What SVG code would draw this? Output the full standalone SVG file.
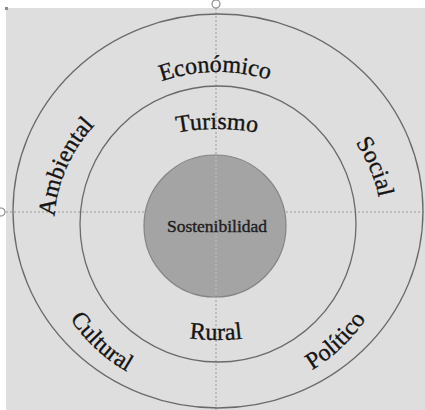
<svg xmlns="http://www.w3.org/2000/svg" xmlns:xlink="http://www.w3.org/1999/xlink" width="425" height="410" viewBox="0 0 425 410">
  <style>
    .ring { fill: none; stroke: #6a6a6a; stroke-width: 1.3; }
    .guide { fill: none; stroke: #9a9a9a; stroke-width: 1; stroke-dasharray: 2 2; }
    .lbl { font-family: "Liberation Serif", "Times New Roman", serif; font-size: 24px; fill: #141414; stroke: #141414; stroke-width: 0.35; }
    .core-lbl { font-family: "Liberation Serif", "Times New Roman", serif; font-size: 17.5px; fill: #1e1e1e; stroke: #1e1e1e; stroke-width: 0.4; }
    .handle { fill: none; stroke: #8a8a8a; stroke-width: 1.2; }
  </style>
  <defs>
    <path id="pEco" d="M110.4,110.2 A164,156 0 0 1 321.2,106.8"/>
    <path id="pSoc" d="M319,105.1 A164,156 0 0 1 380.4,249.7"/>
    <path id="pAmb" d="M57.9,261.8 A164,156 0 0 1 129.9,96.4"/>
    <path id="pCul" d="M48.4,272.9 A176,168 0 0 0 174,390.6"/>
    <path id="pPol" d="M263.6,390.3 A176,168 0 0 0 388,271.5"/>
    <path id="pTur" d="M124,149.6 A220,220 0 0 1 310,149.6"/>
    <path id="pRur" d="M123,319.4 A220,220 0 0 0 309,319.4"/>
  </defs>

  <rect x="0" y="0" width="425" height="410" fill="#ffffff"/>
  <rect x="6" y="8" width="419" height="402" fill="#dedede"/>
  <rect x="5" y="7" width="3" height="3" fill="#8a8a8a"/>

  <g id="guides">
    <line class="guide" x1="216" y1="8" x2="216" y2="410"/>
    <line class="guide" x1="6" y1="212" x2="425" y2="212"/>
    <circle class="handle" cx="216" cy="4" r="4"/>
    <circle class="handle" cx="1" cy="212" r="4"/>
  </g>

  <g id="outer-ring">
    <ellipse class="ring" cx="218" cy="211" rx="205" ry="197"/>
    <text class="lbl"><textPath xlink:href="#pEco" href="#pEco" startOffset="50%" text-anchor="middle">Económico</textPath></text>
    <text class="lbl"><textPath xlink:href="#pSoc" href="#pSoc" startOffset="50%" text-anchor="middle">Social</textPath></text>
    <text class="lbl"><textPath xlink:href="#pAmb" href="#pAmb" startOffset="50%" text-anchor="middle">Ambiental</textPath></text>
    <text class="lbl"><textPath xlink:href="#pCul" href="#pCul" startOffset="50%" text-anchor="middle">Cultural</textPath></text>
    <text class="lbl"><textPath xlink:href="#pPol" href="#pPol" startOffset="50%" text-anchor="middle">Político</textPath></text>
  </g>

  <g id="inner-ring">
    <circle class="ring" cx="218" cy="224" r="138"/>
    <text class="lbl"><textPath xlink:href="#pTur" href="#pTur" startOffset="50%" text-anchor="middle">Turismo</textPath></text>
    <text class="lbl"><textPath xlink:href="#pRur" href="#pRur" startOffset="50%" text-anchor="middle">Rural</textPath></text>
  </g>

  <g id="core">
    <circle cx="215" cy="226" r="71" fill="#a4a4a4" stroke="#848484" stroke-width="1.2"/>
    <line x1="216" y1="156" x2="216" y2="296" stroke="#bdbdbd" stroke-width="1" stroke-dasharray="2 2"/>
    <text class="core-lbl" x="217" y="232" text-anchor="middle">Sostenibilidad</text>
  </g>
</svg>
